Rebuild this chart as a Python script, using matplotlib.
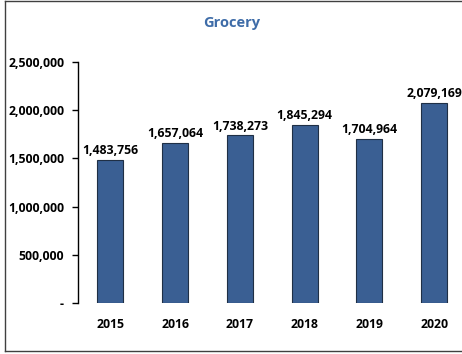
import matplotlib.pyplot as plt
from matplotlib.lines import Line2D
from matplotlib.ticker import FuncFormatter

# datos
years = ["2015", "2016", "2017", "2018", "2019", "2020"]
grocery = [1483756, 1657064, 1738273, 1845294, 1704964, 2079169]

plt.rcParams['font.family'] = ['Open Sans', 'DejaVu Sans']

fig = plt.figure(figsize=(4.62, 3.54), dpi=100)
ax = fig.add_axes([78/462, 51/354, 388.6/462, 241/354])

x = range(len(years))
bars = ax.bar(x, grocery, width=0.4, color="#3A5F93", edgecolor="#1F2F45", linewidth=0.8)

for b, v in zip(bars, grocery):
    ax.annotate(f"{v:,}", (b.get_x() + b.get_width()/2, v), xytext=(0, 2),
                textcoords="offset points", ha="center", va="bottom",
                fontsize=8.8, fontweight="bold", annotation_clip=False)

ax.set_xlim(-0.5, 5.5)
ax.set_ylim(0, 2500000)
ax.set_yticks(range(0, 2500001, 500000))
ax.yaxis.set_major_formatter(FuncFormatter(lambda v, p: "-" if v == 0 else f"{int(v):,}"))
ax.set_xticks(list(x))
ax.set_xticklabels(years)

for s in ["top", "right", "bottom"]:
    ax.spines[s].set_visible(False)
ax.spines["left"].set_linewidth(1.0)

ax.tick_params(axis="y", length=4, width=1, pad=6, labelsize=8.8)
ax.tick_params(axis="x", length=0, pad=11, labelsize=8.8)
for lbl in ax.get_xticklabels() + ax.get_yticklabels():
    lbl.set_fontweight("bold")

fig.text(232/462, 1 - 23/354, "Grocery", ha="center", va="center",
         fontsize=10.5, fontweight="bold", color="#3E6CA8")

# borde del grafico (izquierda, arriba, abajo; el derecho queda fuera)
x0, y0, y1 = 4.5/462, 3.5/354, 353/354
for xs, ys in [([x0, x0], [y0, y1]), ([x0, 1.0], [y1, y1]), ([x0, 1.0], [y0, y0])]:
    fig.add_artist(Line2D(xs, ys, transform=fig.transFigure, color="#404040", linewidth=1.0))

fig.savefig("out.png", dpi=100)
